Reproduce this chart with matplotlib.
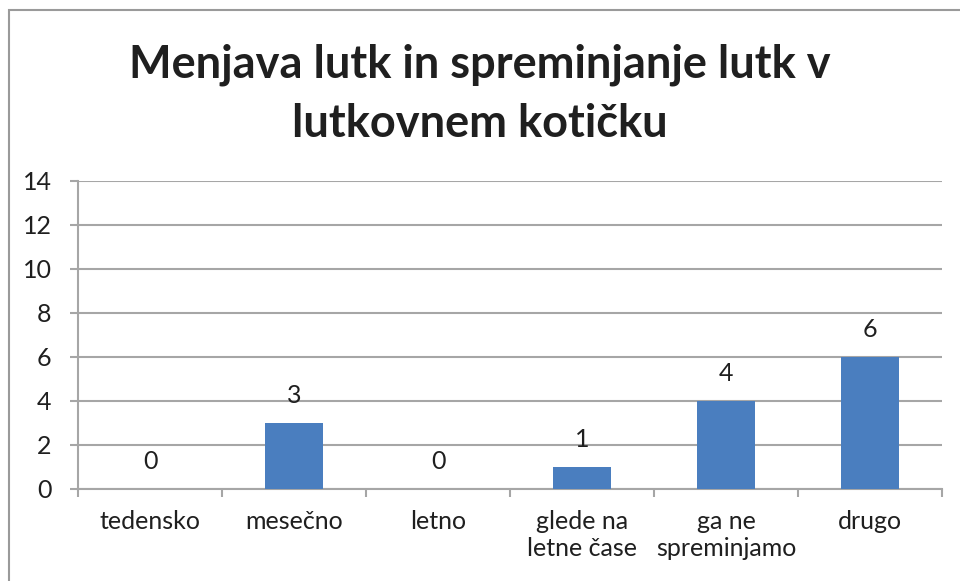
import matplotlib
matplotlib.use("Agg")
import matplotlib.pyplot as plt
import matplotlib.patches as patches

categories = ["tedensko", "mesečno", "letno", "glede na\nletne čase", "ga ne\nspreminjamo", "drugo"]
values = [0, 3, 0, 1, 4, 6]
yticks = [0, 2, 4, 6, 8, 10, 12, 14]

BAR = '#4A7EBF'
GRID = '#A6A6A6'
TXT = '#1F1F1F'
FONT = 'Lato'

plt.rcParams['font.family'] = [FONT, 'DejaVu Sans']

fig = plt.figure(figsize=(9.6, 5.81), dpi=100, facecolor='white')
W, H = 960, 581

# outer chart frame (cut off on the right and bottom)
fig.add_artist(patches.Rectangle((8.5 / W, -0.1), 1.2, 1 - 10 / H + 0.1,
                                 transform=fig.transFigure, fill=False,
                                 edgecolor='#9A9A9A', lw=1.5))

ax = fig.add_axes([78 / W, 1 - 489 / H, (942 - 78) / W, (489 - 181) / H])
x = list(range(len(categories)))
ax.bar(x, values, width=0.4, color=BAR, zorder=3)

ax.set_xlim(-0.5, len(categories) - 0.5)
ax.set_ylim(0, 14)
ax.set_yticks(yticks)
ax.set_yticklabels([str(t) for t in yticks], fontsize=18, color=TXT)
ax.yaxis.grid(True, color=GRID, lw=1.5, zorder=0)
ax.set_axisbelow(True)

for s in ['top', 'right']:
    ax.spines[s].set_visible(False)
for s in ['left', 'bottom']:
    ax.spines[s].set_color(GRID)
    ax.spines[s].set_linewidth(1.5)

ax.tick_params(axis='y', length=6, width=1.5, color=GRID, pad=13)
# category boundary ticks
ax.set_xticks([i - 0.5 for i in range(len(categories) + 1)])
ax.set_xticklabels([])
ax.tick_params(axis='x', length=6, width=1.5, color=GRID)
for i, c in enumerate(categories):
    ax.text(i, -0.95, c, ha='center', va='top', fontsize=18, color=TXT,
            linespacing=1.2)

for i, v in enumerate(values):
    ax.annotate(str(v), (i, v), xytext=(0, 19.5), textcoords='offset points',
                ha='center', va='center', fontsize=18, color=TXT)

fig.text(0.5, 1 - 94 / H, "Menjava lutk in spreminjanje lutk v\nlutkovnem kotičku",
         ha='center', va='center', fontsize=32.5, fontweight='bold', color=TXT,
         linespacing=1.5)

fig.savefig('out.png', dpi=100, facecolor='white')
